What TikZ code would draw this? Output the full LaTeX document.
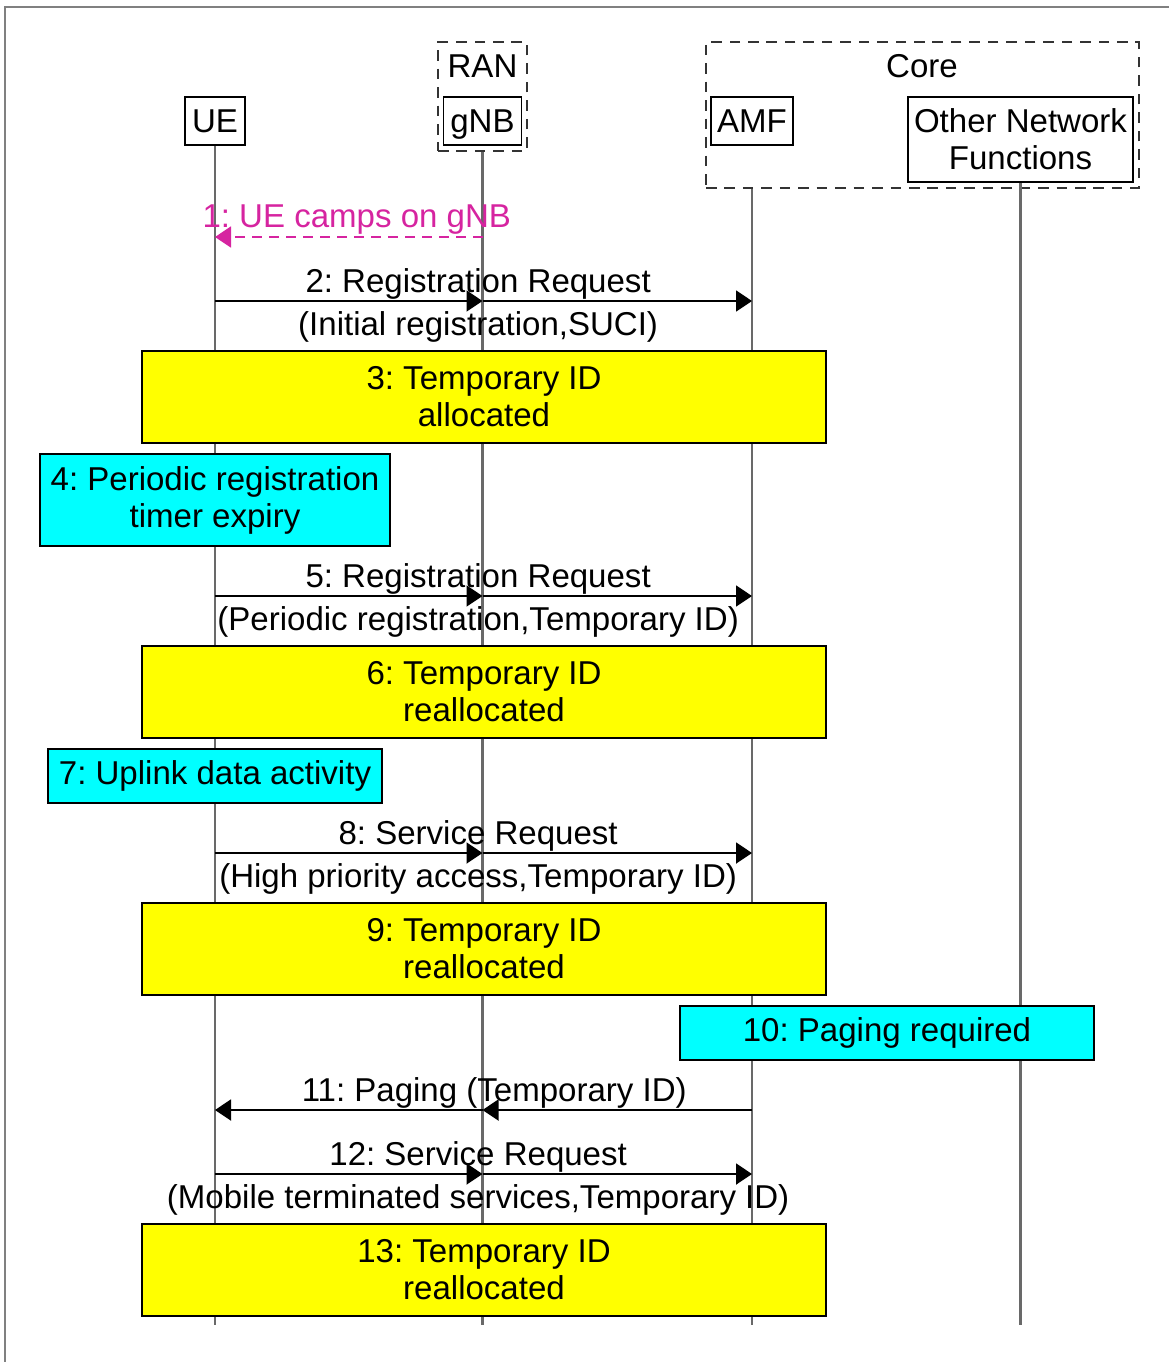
\documentclass[tikz,border=0pt]{standalone}
\usepackage{fontspec}
\setmainfont{Liberation Sans}
\usetikzlibrary{arrows.meta}

\definecolor{campcol}{RGB}{214,36,160}
\definecolor{lifegray}{RGB}{105,105,105}
\definecolor{actyellow}{RGB}{255,255,0}
\definecolor{evcyan}{RGB}{0,255,255}

\begin{document}
\begin{tikzpicture}[>/.tip={Triangle[length=0.32cm,width=0.42cm]},
	font=\fontsize{18.8}{21}\selectfont\frenchspacing,
	entbox/.style={draw,line width=1.1pt,inner sep=1pt,minimum height=0.96cm},
	ent/.style={entbox,text height=16pt,text depth=2.6pt},
	grp/.style={draw=black!80,dash pattern=on 6pt off 4.5pt,line width=1.2pt},
	life/.style={draw=lifegray,line width=1.3pt},
	act/.style={draw,line width=1.1pt,fill=actyellow,align=center,minimum width=13.68cm,minimum height=1.84cm},
	ev/.style={draw,line width=1.1pt,fill=evcyan,align=center,minimum height=1.84cm},
	msg/.style={->,line width=1.1pt},
	lbl/.style={inner sep=1pt}]
	\useasboundingbox (0,0) rectangle (23.38,-27.24);
	\draw[gray,line width=1pt] (0.1,-27.24) -- (0.1,-0.14) -- (23.38,-0.14);
	% groups and entities
	\draw (9.65,-1.93) node (RAN) [grp,minimum width=1.78cm,minimum height=2.18cm] {};
	\node (RANl) at (9.65,-1.32) {RAN};
	\draw (18.45,-2.3) node (Core) [grp,minimum width=8.66cm,minimum height=2.92cm] {};
	\node (Corel) at (18.44,-1.32) {Core};
	\draw (4.3,-2.42) node (UE) [ent,minimum width=1.2cm] {UE};
	\draw (9.65,-2.42) node (gNB) [ent,minimum width=1.56cm] {gNB};
	\draw (15.04,-2.42) node (AMF) [ent,minimum width=1.64cm] {AMF};
	\draw (20.41,-2.79) node (ONF) [entbox,minimum width=4.5cm,minimum height=1.7cm,align=center] {Other Network\\Functions};
	% lifelines
	\coordinate (UEend) at (4.3,-26.5);
	\coordinate (gNBend) at (9.65,-26.5);
	\coordinate (AMFend) at (15.04,-26.5);
	\coordinate (ONFend) at (20.41,-26.5);
	\draw[life] (UE) -- (UEend);
	\draw[life] (RAN) -- (gNBend);
	\draw[life] (Core.south -| AMF) -- (AMFend);
	\draw[life] (ONF) -- (ONFend);
	\foreach \m/\y in {1/-4.74,2/-6.02,5/-11.92,8/-17.06,11/-22.2,12/-23.48} {
		\coordinate (u\m) at (4.3,\y);
		\coordinate (g\m) at (9.65,\y);
		\coordinate (a\m) at (15.04,\y);
	}
	% steps
	\node (s3) at (9.68,-7.94) [act] {3: Temporary ID\\allocated};
	\node (s4) at (4.3,-10.0) [ev,minimum width=7cm] {4: Periodic registration\\timer expiry};
	\node (s6) at (9.68,-13.84) [act] {6: Temporary ID\\reallocated};
	\node (s7) at (4.3,-15.52) [ev,minimum width=6.68cm,minimum height=1.08cm] {7: Uplink data activity};
	\node (s9) at (9.68,-18.98) [act] {9: Temporary ID\\reallocated};
	\node (s10) at (17.74,-20.66) [ev,minimum width=8.28cm,minimum height=1.08cm] {10: Paging required};
	\node (s13) at (9.68,-25.4) [act] {13: Temporary ID\\reallocated};
	% messages
	\draw[msg,campcol,dash pattern=on 0.2cm off 0.14cm] (g1) -- (u1) node [pos=0.47,above,lbl,text=campcol] (m1) {1: UE camps on gNB};
	\draw[msg] (u2) -- (g2);
	\draw[msg] (g2) -- (a2);
	\path (u2) -- (a2) node [pos=0.49,above,lbl] (m2a) {2: Registration Request} node [pos=0.49,below=5pt,lbl] (m2b) {(Initial registration,SUCI)};
	\draw[msg] (u5) -- (g5);
	\draw[msg] (g5) -- (a5);
	\path (u5) -- (a5) node [pos=0.49,above,lbl] (m5a) {5: Registration Request} node [pos=0.49,below=5pt,lbl] (m5b) {(Periodic registration,Temporary ID)};
	\draw[msg] (u8) -- (g8);
	\draw[msg] (g8) -- (a8);
	\path (u8) -- (a8) node [pos=0.49,above,lbl] (m8a) {8: Service Request} node [pos=0.49,below=5pt,lbl] (m8b) {(High priority access,Temporary ID)};
	\draw[msg] (a11) -- (g11);
	\draw[msg] (g11) -- (u11);
	\path (u11) -- (a11) node [pos=0.52,above,lbl] (m11) {11: Paging (Temporary ID)};
	\draw[msg] (u12) -- (g12);
	\draw[msg] (g12) -- (a12);
	\path (u12) -- (a12) node [pos=0.49,above,lbl] (m12a) {12: Service Request} node [pos=0.49,below=5pt,lbl] (m12b) {(Mobile terminated services,Temporary ID)};
\end{tikzpicture}
\end{document}
